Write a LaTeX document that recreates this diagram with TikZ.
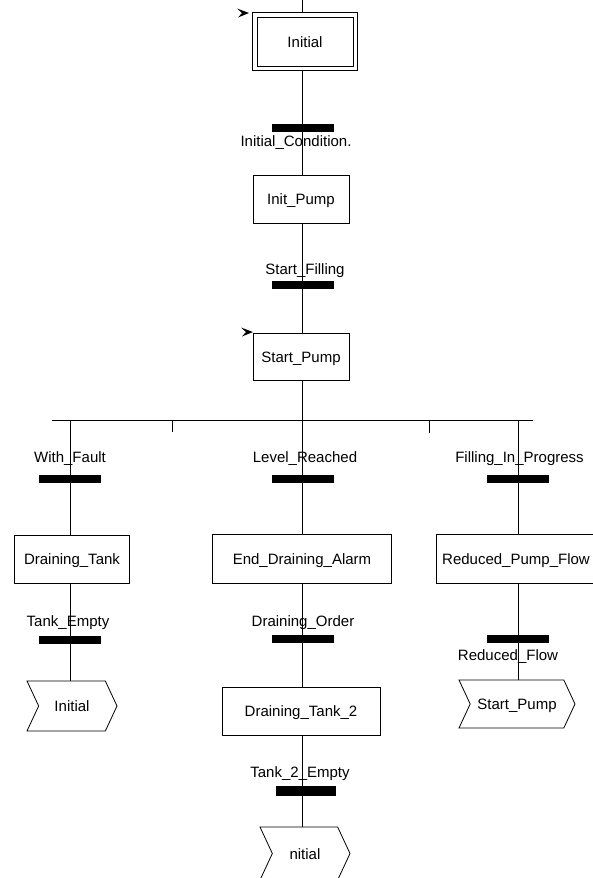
\documentclass[tikz,border=0pt]{standalone}
\usepackage{fontspec}
\setmainfont{Liberation Sans}
\usetikzlibrary{shapes.symbols}

% small arrow showing an active step
\newcommand\activemark[1]{\fill[shift={#1}] (-12,-4.5) -- (0,0) -- (-11,4.5) -- (-7,0) -- cycle;}

\begin{document}
\begin{tikzpicture}[x=1pt,y=-1pt,line width=0.8pt,
  font=\fontsize{15}{18}\selectfont,
  stepbox/.style={draw,inner sep=0pt,minimum height=48pt,text height=11pt,text depth=0pt},
  transbar/.style={fill,inner sep=0pt,minimum width=62pt,minimum height=8pt},
  cond/.style={anchor=base,inner sep=0pt},
  jumpto/.style={draw,signal,signal from=west,signal to=east,signal pointer angle=130,
    inner sep=0pt,minimum width=90pt,minimum height=50pt,text height=11pt,text depth=0pt}]
  \useasboundingbox (0,0) rectangle (593,878);

  % steps (initial step gets a second frame)
  \node[stepbox,outer sep=4.8pt,minimum width=96pt,minimum height=49pt] (initial) at (305,41.5) {Initial};
  \draw (initial.north west) rectangle (initial.south east);
  \node[stepbox,minimum width=96pt] (initPump) at (301,199) {Init\_Pump};
  \node[stepbox,minimum width=96pt,minimum height=47pt] (startPump) at (301,356.5) {Start\_Pump};
  \node[stepbox,minimum width=115pt] (drainTank) at (72,559) {Draining\_Tank};
  \node[stepbox,minimum width=179pt,minimum height=49pt] (endAlarm) at (302,558.5) {End\_Draining\_Alarm};
  \node[stepbox,minimum width=160pt,minimum height=49pt] (reducedPump) at (516,558.5) {Reduced\_Pump\_Flow};
  \node[stepbox,minimum width=158pt] (drainTank2) at (301,711) {Draining\_Tank\_2};

  % transitions
  \node[transbar] (tInit) at (303,127.5) {};
  \node[transbar] (tFill) at (303,285) {};
  \node[transbar] (tFault) at (70,478.5) {};
  \node[transbar] (tLevel) at (303,478.5) {};
  \node[transbar] (tProgress) at (518,478.5) {};
  \node[transbar] (tEmpty) at (70,640) {};
  \node[transbar] (tOrder) at (303,639) {};
  \node[transbar] (tReduced) at (518,639) {};
  \node[transbar,minimum width=60pt,minimum height=10pt] (tEmpty2) at (306,791) {};

  % jumps
  \node[jumpto] (jmpInit) at (72,706) {Initial};
  \node[jumpto,minimum width=116pt,minimum height=48pt] (jmpStart) at (517,704) {Start\_Pump};
  \node[jumpto,minimum height=53pt] (jmpInit2) at (305,853.5) {nitial};

  % conditions
  \node[cond] (lInit) at (296,146) {Initial\_Condition.};
  \node[cond] (lFill) at (305,274) {Start\_Filling};
  \node[cond] (lFault) at (70,462) {With\_Fault};
  \node[cond] (lLevel) at (305,462) {Level\_Reached};
  \node[cond] (lProgress) at (519.5,462) {Filling\_In\_Progress};
  \node[cond] (lEmpty) at (68,626) {Tank\_Empty};
  \node[cond] (lOrder) at (303,626) {Draining\_Order};
  \node[cond] (lReduced) at (508,660) {Reduced\_Flow};
  \node[cond] (lEmpty2) at (300,777) {Tank\_2\_Empty};

  % links
  \coordinate (colM) at (302,0);
  \coordinate (colL) at (70,420);
  \coordinate (colR) at (518,420);
  \draw (colM) -- (colM |- initial.north);
  \draw (colM |- initial.south) -- (colM |- initPump.north);
  \draw (colM |- initPump.south) -- (colM |- startPump.north);
  \draw (colM |- startPump.south) -- (colM |- endAlarm.north);
  \draw (colM |- endAlarm.south) -- (colM |- drainTank2.north);
  \draw (colM |- drainTank2.south) -- (colM |- jmpInit2.north);
  \draw (colL) -- (colL |- drainTank.north);
  \draw (colL |- drainTank.south) -- (colL |- jmpInit.north);
  \draw (colR) -- (colR |- reducedPump.north);
  \draw (colR |- reducedPump.south) -- (colR |- jmpStart.north);

  % divergence
  \coordinate (divL) at (52,420);
  \coordinate (divR) at (533,420);
  \coordinate (tickL) at (172,420);
  \coordinate (tickR) at (429,420);
  \draw (divL) -- (divR);
  \draw (tickL) -- ++(0,12);
  \draw (tickR) -- ++(0,13);

  \activemark{(249,13)}
  \activemark{(253,332)}
\end{tikzpicture}
\end{document}
